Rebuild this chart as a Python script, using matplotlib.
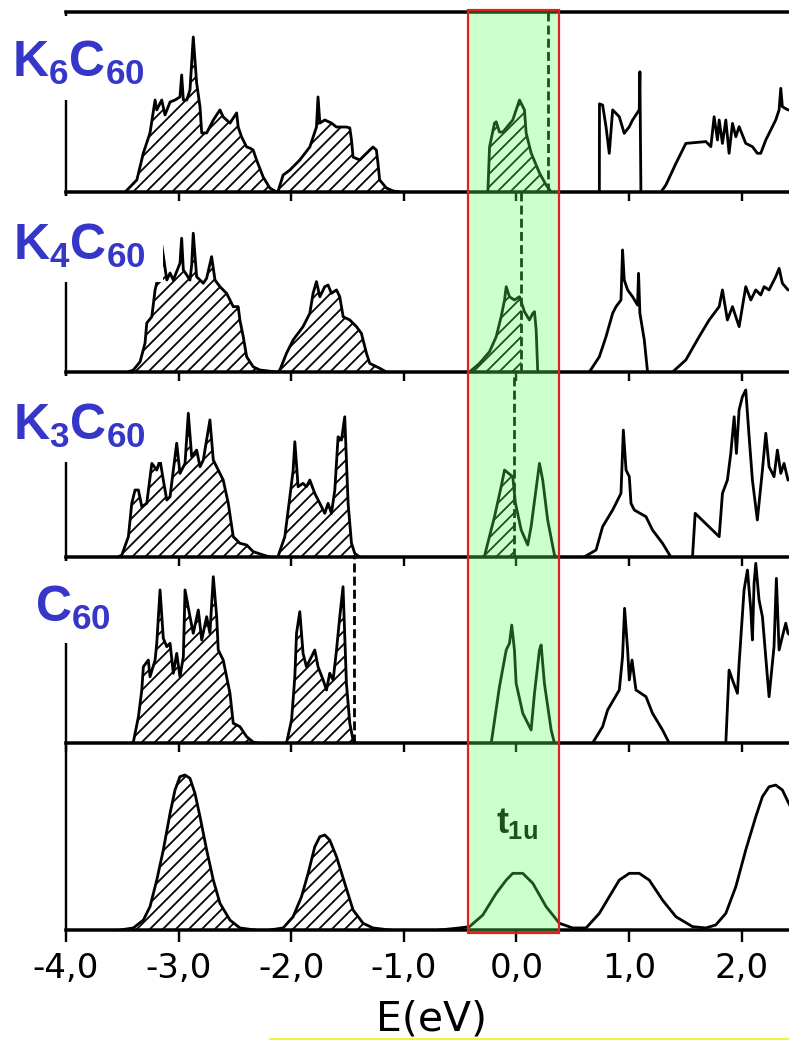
import matplotlib.pyplot as plt
import numpy as np
from matplotlib.lines import Line2D
from matplotlib.patches import Rectangle

W, H = 789, 1040
DPI = 78           # hatch spacing scales with dpi; '//' at 78 dpi gives ~13 px like the scan
PX = 72 / DPI      # points per pixel

plt.rcParams["mathtext.fontset"] = "custom"
for key in ("rm", "it", "bf", "sf"):
    plt.rcParams["mathtext." + key] = "Liberation Sans:bold"
plt.rcParams["hatch.linewidth"] = 1.8 * PX
plt.rcParams["hatch.color"] = "black"

# ---- data: (energy eV, DOS arb. units) per band ----
k6c60_bands = [
    ([-3.475, -3.371, -3.313, -3.254, -3.209, -3.194, -3.150, -3.121, -3.076, -3.032, -2.988,
      -2.973, -2.958, -2.928, -2.899, -2.870, -2.840, -2.810, -2.795, -2.751, -2.692, -2.633,
      -2.604, -2.544, -2.485, -2.471, -2.441, -2.396, -2.367, -2.338, -2.308, -2.249, -2.190, -2.130],
     [0, .067, .217, .328, .511, .456, .511, .428, .50, .511, .528, .65, .511, .511, .567, .861,
      .606, .472, .328, .328, .40, .456, .417, .383, .439, .361, .306, .25, .244, .233, .178,
      .083, .022, 0]),
    ([-2.119, -2.072, -2.012, -1.924, -1.835, -1.776, -1.762, -1.746, -1.702, -1.643, -1.598,
      -1.510, -1.480, -1.465, -1.451, -1.392, -1.303, -1.274, -1.244, -1.230, -1.215, -1.155,
      -1.097, -1.037],
     [0, .094, .122, .178, .25, .361, .528, .383, .40, .383, .361, .361, .356, .289, .194, .178,
      .233, .25, .233, .161, .067, .022, .006, 0]),
    ([-0.254, -0.239, -0.195, -0.180, -0.151, -0.121, -0.033, -0.003, 0.027, 0.071, 0.086,
      0.130, 0.204, 0.263, 0.308],
     [0, .25, .383, .39, .333, .333, .40, .456, .511, .456, .328, .217, .106, .039, 0]),
    ([0.736, 0.737, 0.765, 0.795, 0.824, 0.854, 0.884, 0.913, 0.957, 1.002, 1.031, 1.090,
      1.096, 1.105],
     [0, .49, .483, .363, .215, .456, .437, .418, .326, .363, .40, .456, .668, 0]),
    ([1.283, 1.327, 1.416, 1.504, 1.682, 1.726, 1.755, 1.785, 1.800, 1.829, 1.859, 1.888,
      1.918, 1.948, 1.977, 2.036, 2.095, 2.139, 2.169, 2.214, 2.302, 2.332, 2.347, 2.361,
      2.411, 2.45],
     [0, .039, .159, .27, .28, .252, .418, .289, .40, .27, .40, .215, .381, .307, .363, .27,
      .252, .215, .215, .289, .40, .456, .576, .474, .456, .456]),
]

k4c60_bands = [
    ([-3.45, -3.402, -3.342, -3.298, -3.283, -3.238, -3.209, -3.194, -3.165, -3.105, -3.076,
      -3.047, -2.988, -2.973, -2.958, -2.928, -2.899, -2.884, -2.870, -2.840, -2.810, -2.781,
      -2.751, -2.707, -2.677, -2.633, -2.574, -2.544, -2.515, -2.471, -2.456, -2.426, -2.396,
      -2.338, -2.278, -2.130],
     [0, .011, .057, .161, .272, .307, .456, .494, .772, .511, .55, .511, .604, .743, .567,
      .539, .511, .594, .771, .529, .511, .493, .521, .641, .511, .474, .437, .40, .363, .363,
      .289, .196, .085, .029, .011, 0]),
    ([-2.119, -2.101, -2.042, -1.983, -1.895, -1.835, -1.806, -1.776, -1.746, -1.702, -1.673,
      -1.643, -1.598, -1.569, -1.539, -1.480, -1.421, -1.377, -1.332, -1.303, -1.215, -1.155],
     [0, .011, .104, .178, .252, .326, .437, .502, .418, .474, .483, .437, .456, .418, .307,
      .289, .252, .215, .104, .048, .021, 0]),
    ([-0.417, -0.328, -0.239, -0.180, -0.136, -0.106, -0.091, -0.062, -0.018, 0.027, 0.071,
      0.115, 0.145, 0.160, 0.175, 0.189],
     [0, .048, .113, .196, .307, .40, .474, .418, .40, .418, .335, .289, .326, .335, .233, 0]),
    ([0.647, 0.736, 0.795, 0.854, 0.884, 0.928, 0.942, 0.957, 0.987, 1.031, 1.075, 1.084,
      1.096, 1.135, 1.164],
     [0, .085, .196, .326, .363, .40, .678, .511, .456, .418, .372, .548, .326, .178, 0]),
    ([1.386, 1.504, 1.622, 1.711, 1.800, 1.829, 1.873, 1.918, 1.977, 2.036, 2.081, 2.125,
      2.169, 2.199, 2.243, 2.302, 2.332, 2.361, 2.411, 2.45],
     [0, .067, .196, .289, .363, .456, .289, .363, .252, .474, .40, .456, .428, .474, .456,
      .529, .576, .493, .456, .456]),
]

k3c60_bands = [
    ([-3.537, -3.504, -3.446, -3.416, -3.387, -3.357, -3.327, -3.283, -3.238, -3.194, -3.165,
      -3.136, -3.105, -3.076, -3.047, -3.017, -2.988, -2.943, -2.914, -2.884, -2.840, -2.810,
      -2.781, -2.722, -2.692, -2.648, -2.604, -2.559, -2.515, -2.456, -2.396, -2.338, -2.249,
      -2.190],
     [0, .011, .11, .29, .362, .362, .272, .29, .506, .47, .524, .416, .308, .326, .47, .615,
      .452, .506, .777, .542, .578, .488, .524, .741, .524, .47, .416, .29, .11, .074, .065,
      .029, .011, 0]),
    ([-2.119, -2.057, -2.012, -1.983, -1.968, -1.939, -1.895, -1.865, -1.835, -1.791, -1.746,
      -1.702, -1.673, -1.643, -1.613, -1.584, -1.554, -1.525, -1.495, -1.465, -1.436, -1.392],
     [0, .11, .326, .47, .623, .38, .398, .38, .416, .344, .29, .236, .29, .236, .362, .65,
      .632, .758, .29, .074, .02, 0]),
    ([-0.301, -0.284, -0.195, -0.136, -0.106, -0.033, -0.009, 0.042, 0.100, 0.130, 0.204,
      0.233, 0.277, 0.337, 0.355],
     [0, .005, .218, .38, .47, .434, .29, .146, .065, .164, .506, .416, .2, .011, 0]),
    ([0.603, 0.632, 0.707, 0.765, 0.854, 0.928, 0.949, 0.973, 1.002, 1.017, 1.046, 1.150,
      1.208, 1.297, 1.371],
     [0, .011, .038, .164, .254, .344, .686, .47, .434, .29, .254, .218, .146, .074, 0]),
    ([1.563, 1.587, 1.800, 1.829, 1.873, 1.903, 1.933, 1.953, 1.977, 2.006, 2.036, 2.066,
      2.095, 2.139, 2.184, 2.214, 2.243, 2.287, 2.317, 2.347, 2.376, 2.411, 2.45],
     [0, .236, .11, .344, .416, .56, .758, .56, .795, .866, .903, .65, .416, .2, .47, .669,
      .488, .434, .578, .452, .506, .416, .416]),
]

c60_bands = [
    ([-3.42, -3.402, -3.357, -3.327, -3.313, -3.269, -3.254, -3.209, -3.194, -3.165, -3.136,
      -3.105, -3.076, -3.047, -3.017, -2.988, -2.958, -2.943, -2.899, -2.870, -2.825, -2.795,
      -2.751, -2.722, -2.692, -2.662, -2.648, -2.604, -2.544, -2.515, -2.456, -2.396, -2.338,
      -2.296],
     [0, .005, .141, .285, .41, .446, .356, .446, .536, .823, .563, .518, .536, .375, .482,
      .356, .464, .823, .679, .59, .715, .554, .679, .59, .894, .679, .5, .446, .267, .106,
      .088, .034, .005, 0]),
    ([-2.042, -1.997, -1.968, -1.953, -1.924, -1.895, -1.865, -1.820, -1.791, -1.762, -1.717,
      -1.687, -1.658, -1.628, -1.598, -1.569, -1.540, -1.510, -1.480, -1.451, -1.427],
     [0, .124, .356, .59, .706, .482, .41, .464, .5, .41, .339, .285, .375, .339, .5, .679,
      .84, .321, .106, .016, 0]),
    ([-0.224, -0.151, -0.091, -0.062, -0.042, -0.018, -0.003, 0.056, 0.130, 0.160, 0.204,
      0.219, 0.248, 0.308, 0.337],
     [0, .303, .5, .536, .634, .5, .321, .16, .07, .267, .5, .527, .321, .07, 0]),
    ([0.676, 0.765, 0.809, 0.913, 0.942, 0.960, 0.987, 1.002, 1.026, 1.061, 1.150, 1.208,
      1.297, 1.356],
     [0, .088, .177, .285, .464, .724, .5, .339, .446, .285, .249, .16, .07, 0]),
    ([1.859, 1.888, 1.918, 1.962, 1.977, 2.021, 2.051, 2.081, 2.095, 2.110, 2.125, 2.154,
      2.184, 2.228, 2.243, 2.287, 2.308, 2.332, 2.361, 2.391, 2.411, 2.45],
     [0, .392, .339, .267, .428, .823, .93, .715, .554, .859, .966, .769, .679, .356, .249,
      .518, .885, .5, .572, .644, .59, .57]),
]

huckel_bands = [
    ([-3.52, -3.402, -3.313, -3.254, -3.194, -3.136, -3.076, -3.032, -2.988, -2.943, -2.899,
      -2.855, -2.810, -2.751, -2.692, -2.633, -2.544, -2.456, -2.323],
     [0, .011, .053, .125, .267, .428, .624, .749, .82, .829, .811, .731, .606, .428, .267,
      .143, .053, .011, 0]),
    ([-2.19, -2.072, -1.983, -1.909, -1.850, -1.791, -1.746, -1.702, -1.658, -1.598, -1.525,
      -1.451, -1.362, -1.274, -1.126],
     [0, .011, .071, .178, .303, .445, .499, .508, .481, .392, .25, .107, .036, .011, 0]),
    ([-0.683, -0.505, -0.417, -0.299, -0.180, -0.091, -0.033, 0.056, 0.145, 0.263, 0.381,
      0.499, 0.618, 0.736, 0.824, 0.913, 1.002, 1.090, 1.179, 1.297, 1.416, 1.563, 1.682,
      1.770, 1.859, 1.948, 2.036, 2.125, 2.184, 2.243, 2.302, 2.361, 2.411, 2.45],
     [0, .011, .018, .08, .196, .267, .303, .303, .25, .125, .036, .011, .011, .089, .178,
      .267, .303, .303, .267, .16, .071, .018, .011, .027, .089, .232, .428, .606, .713,
      .766, .775, .749, .686, .64]),
]

panels = [k6c60_bands, k4c60_bands, k3c60_bands, c60_bands, huckel_bands]
panel_labels = [r"$K_6C_{60}$", r"$K_4C_{60}$", r"$K_3C_{60}$", r"$C_{60}$"]
fermi_levels = [0.278, 0.042, -0.018, -1.442, None]
hatch_limits = [0.31, 0.042, -0.018, -1.442, -1.0]
xticks = [-4, -3, -2, -1, 0, 1, 2]
xtick_labels = ["-4,0", "-3,0", "-2,0", "-1,0", "0,0", "1,0", "2,0"]

# ---- layout (pixels of the 789x1040 picture) ----
AX_LEFT = 66
panel_edges = [12, 192, 372, 557, 743, 930]
label_pos = [(12, 77), (13, 260), (13, 440), (35, 622)]
label_boxes = [(0, 16, 150, 100), (0, 196, 163, 282), (0, 376, 163, 462), (0, 561, 150, 643)]
window = (468, 10, 559, 933)

BLUE = "#3636c8"


def fig_rect(x0, y0, x1, y1):
    return (x0 / W, 1 - y1 / H), (x1 - x0) / W, (y1 - y0) / H


def hatched(ax, e, d, limit):
    e = np.asarray(e, float)
    d = np.asarray(d, float)
    keep = e <= limit
    if not keep.any():
        return
    fe, fd = e[keep], d[keep]
    if limit < e[-1]:
        fe = np.append(fe, limit)
        fd = np.append(fd, np.interp(limit, e, d))
    ax.fill_between(fe, 0, fd, facecolor="none", edgecolor="black",
                    hatch="//", linewidth=0)


fig = plt.figure(figsize=(W / DPI, H / DPI), dpi=DPI)

for i, bands in enumerate(panels):
    top, bottom = panel_edges[i], panel_edges[i + 1]
    ax = fig.add_axes([AX_LEFT / W, 1 - bottom / H, 1 - AX_LEFT / W, (bottom - top) / H])
    ax.patch.set_visible(False)
    ax.set_xlim(-4.0, 2.42)
    ax.set_ylim(0, 1)
    for e, d in bands:
        hatched(ax, e, d, hatch_limits[i])
        ax.plot(e, d, color="black", lw=2.8 * PX, solid_joinstyle="round")
    if fermi_levels[i] is not None:
        ax.axvline(fermi_levels[i], color="black", lw=2.8 * PX, ls=(0, (3.2, 1.5)))

    ax.spines["right"].set_visible(False)
    ax.spines["top"].set_visible(i == 0)
    ax.spines["top"].set_linewidth(3.5 * PX)
    ax.spines["bottom"].set_linewidth(3.5 * PX)
    ax.spines["left"].set_linewidth(2.4 * PX)
    ax.set_yticks([])
    ax.set_xticks(xticks)
    ax.tick_params(axis="x", direction="out", length=(12 if i == 4 else 9) * PX,
                   width=2.4 * PX, pad=10 * PX)
    if i == 4:
        ax.set_xticklabels(xtick_labels, fontsize=34 * PX, family="DejaVu Sans")
        ax.text(0.0, 0.52, r"$t_{1u}$", fontsize=36 * PX, ha="center", va="baseline",
                color="black")
    else:
        ax.set_xticklabels([])

# white boxes behind the compound names
for box in label_boxes:
    xy, w, h = fig_rect(*box)
    fig.add_artist(Rectangle(xy, w, h, transform=fig.transFigure, facecolor="white",
                             edgecolor="none", zorder=4))

for (x, y), name in zip(label_pos, panel_labels):
    fig.text(x / W, 1 - y / H, name, fontsize=50 * PX, color=BLUE,
             ha="left", va="baseline", zorder=6)

# green highlight of the t1u window
xy, w, h = fig_rect(*window)
fig.add_artist(Rectangle(xy, w, h, transform=fig.transFigure,
                         facecolor=(94 / 255, 1.0, 94 / 255), alpha=0.318,
                         edgecolor="none", zorder=5))
fig.add_artist(Rectangle(xy, w, h, transform=fig.transFigure, fill=False,
                         edgecolor="#e02020", lw=2.2 * PX, zorder=5))

fig.text(431 / W, 1 - 1031 / H, "E(eV)", fontsize=41 * PX, ha="center",
         va="baseline", family="DejaVu Sans")
fig.add_artist(Line2D([270 / W, 1.0], [1 - 1038.5 / H] * 2, transform=fig.transFigure,
                      color="#f0f040", lw=3 * PX))

fig.savefig("out.png", dpi=DPI)
